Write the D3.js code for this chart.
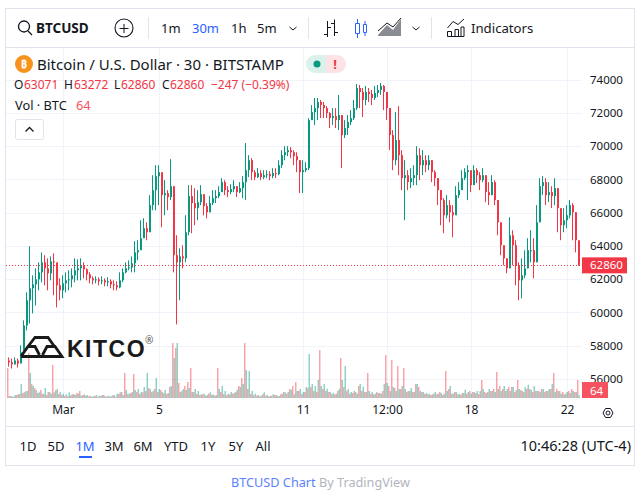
<!DOCTYPE html>
<html>
<head>
<meta charset="utf-8">
<script src="https://cdn.jsdelivr.net/npm/d3@7"></script>
<style>
  html, body { margin: 0; padding: 0; background: #fff; }
  svg { display: block; }
  text { font-family: "Noto Sans", sans-serif; fill: #131722; }
</style>
</head>
<body>
<svg id="chart" width="642" height="496"></svg>
<script>
// one candle every 3 hours, open = previous close
var closes = [
  57000,56880,57110,56930,57600,59220,60730,61450,61690,61990,
  62410,63010,62650,62350,63070,63010,61630,61330,61750,61930,
  61990,62230,62530,62650,62830,62590,62290,62050,61930,61990,
  61870,61930,61810,61870,61690,61630,61510,61930,62410,62650,
  62710,62950,63610,63740,64460,65060,64820,66450,67350,68190,
  68430,67050,67170,66930,67590,63440,63010,63370,63250,64820,
  66990,66570,66270,66630,67110,66390,66020,66570,66870,66990,
  67230,67830,67350,67230,67410,67590,67230,67470,67830,68550,
  69150,68430,68130,68370,68130,68250,68310,68190,68370,68310,
  68850,69450,69630,69750,69630,69390,69150,68430,68550,68670,
  71560,72040,72280,72650,72470,72280,71980,71680,71800,71560,
  71860,70660,71080,71440,71680,72280,73490,73250,72770,73250,
  73130,72890,73190,73370,73610,73250,72280,70660,69150,70360,
  69450,68070,68250,67830,68070,68250,69450,68850,69150,68850,
  69150,68430,68070,67350,66750,65840,66450,66020,65840,67050,
  67350,68070,68430,68550,67650,68550,68250,67950,68250,67230,
  67050,67830,66750,65420,64040,63250,62650,64640,64040,62830,
  61930,62230,62650,63740,63740,63010,65420,67590,67830,67050,
  67230,66990,67470,66270,65240,65540,65840,66450,66020,64340,
  62860
];
var highs = [
  57300,57230,57300,57230,58020,59520,61210,63980,62230,62650,
  63010,63610,63440,63250,63370,63550,62650,62050,62230,62410,
  62530,62650,63250,63190,63250,63010,62650,62410,62170,62170,
  62110,62170,62050,62110,61990,61930,61870,62410,62650,63010,
  63130,63370,64280,64340,65540,65660,65420,67050,68250,68850,
  68850,68250,67950,67350,69210,67350,64640,63860,64040,65840,
  67650,67650,67470,67350,67650,66990,66570,66990,67350,67350,
  67590,68070,67950,67590,67710,67950,67590,67830,68190,70180,
  69450,69270,68550,68670,68550,68550,68550,68490,68670,68670,
  69150,69750,69990,69990,69940,69750,69630,69150,69150,69030,
  71680,72460,72890,72890,72770,72650,72400,72040,72280,72280,
  73070,71860,71560,71860,72160,72770,73730,73670,73490,73610,
  73490,73370,73610,73670,73790,73670,73250,72280,70960,72040,
  72400,69750,69150,68550,68670,68850,69990,69870,69750,69450,
  69450,69150,68550,68070,67350,66870,67050,66750,66450,67590,
  67830,68550,68670,68850,68430,68850,68670,68430,68670,68070,
  67830,68250,67950,66750,65240,63860,63250,65720,64940,64340,
  63010,63250,63740,64460,64940,64460,66450,68070,68190,68070,
  67830,67590,68070,67350,66140,66270,66450,66750,66570,66020,
  64000
];
var lows = [
  56750,56630,56870,56690,57000,57600,58920,59340,59940,60420,
  61330,61810,61630,61330,61930,61030,60300,60730,60850,61210,
  61330,61510,61810,61930,61930,62050,61930,61750,61690,61750,
  61630,61690,61570,61570,61450,61330,61330,61450,61810,62350,
  62530,62410,62410,63130,63860,64580,64340,65540,66140,66140,
  66450,65120,65840,66140,66750,62410,59280,60730,62650,63010,
  64640,64760,65240,65540,66450,65840,65660,66020,66450,66570,
  66870,67350,67050,66930,67110,67230,66930,67170,66870,66750,
  68130,67950,67950,68070,67950,68010,68070,67950,68070,68070,
  68250,68670,69150,69390,69270,68850,68430,67170,67170,68430,
  68550,71560,71260,71560,71680,71680,71680,71080,71260,71080,
  70960,68670,70480,70660,71260,71560,72160,72280,71740,72460,
  72650,72460,72770,72950,73070,72160,71560,69760,68550,68850,
  68250,67350,65540,67350,67470,67650,67650,67950,68250,68430,
  68550,67830,67590,66450,65240,64760,65660,65420,64520,66140,
  66870,67470,67950,66750,67230,67950,67770,67350,67830,66630,
  66450,67050,66450,64640,63440,62830,62350,63010,62830,61630,
  60730,60850,62050,62650,63010,62050,63740,65420,67050,66450,
  66630,66270,66450,64820,64340,64820,65060,65660,64340,63610,
  62800
];
var downVolumes = [
  900,60,40,90,120,150,200,1350,420,300,
  150,240,120,90,180,990,240,120,90,60,
  50,80,120,150,210,90,70,50,40,60,
  40,60,90,40,50,80,40,120,180,750,
  120,150,720,180,120,170,210,300,180,270,
  180,240,150,120,330,1650,1500,450,210,360,
  480,900,180,120,90,110,70,130,90,70,
  900,180,120,80,110,130,180,360,600,1650,
  270,120,80,70,50,110,70,50,70,90,
  60,110,180,130,270,360,480,210,120,180,
  300,330,210,180,1440,270,210,180,120,110,
  210,1200,330,210,130,150,180,360,210,180,
  750,130,110,180,150,210,1290,360,1140,300,
  960,270,900,180,210,180,420,330,180,120,
  110,90,130,110,180,90,810,270,130,180,
  110,90,150,130,210,180,150,120,540,180,
  180,210,270,780,360,270,210,330,330,180,
  540,240,180,270,270,180,210,210,270,180,
  210,270,750,270,210,180,130,210,270,180,
  540
];
var upVolumes = [
  60,50,90,110,420,170,210,750,360,240,
  170,130,300,180,130,170,270,180,130,110,
  170,110,90,130,70,110,90,70,50,90,
  70,90,50,70,50,90,130,170,90,240,
  130,180,240,270,180,330,750,270,210,600,
  270,180,240,150,360,1200,1650,180,270,240,
  300,180,270,210,110,130,90,170,110,90,
  270,360,210,130,180,150,250,330,420,840,
  810,210,130,90,70,170,90,60,110,90,
  60,130,170,180,250,110,210,270,180,330,
  1320,420,360,540,360,420,270,180,150,130,
  270,540,960,270,180,210,130,420,340,180,
  210,180,130,150,130,420,450,210,330,210,
  270,360,270,210,300,180,420,210,180,150,
  130,110,180,130,150,130,210,360,130,180,
  130,150,250,180,130,180,210,210,270,150,
  270,210,180,270,210,360,270,210,330,240,
  270,210,330,400,240,360,210,180,270,210,
  270,420,180,210,130,110,180,150,210,180,
  80
];
var firstOpen = 57100;
var priceTicks = [56000,58000,60000,62000,64000,66000,68000,70000,72000,74000];
var timeTicks = [Date.UTC(2024,2,1), Date.UTC(2024,2,5), Date.UTC(2024,2,11), Date.UTC(2024,2,14,12), Date.UTC(2024,2,18), Date.UTC(2024,2,22)];
var timeLabels = ["Mar","5","11","12:00","18","22"];
var firstBar = Date.UTC(2024,1,27,17);
var barHours = 3;
var lastPrice = 62860;
var lastVolume = "64";
var rangeButtons = ["1D","5D","1M","3M","6M","YTD","1Y","5Y","All"];
var rangeCenters = [28,56,85,114,143,176,208,236,263];
var intervals = ["1m","30m","1h","5m"];
var intervalStarts = [161,192,231,257];
var legendParts = ["O","63071","H","63272","L","62860","C","62860","−247 (−0.39%)"];
var legendStarts = [14,24,64,74,114,121,162,170,211];

var upColor = "#089981", downColor = "#f23645", gridColor = "#f0f3fa", borderColor = "#e0e3eb", blue = "#2962ff";

var svg = d3.select("#chart");

// scales
var x = d3.scaleTime()
  .domain([Date.UTC(2024,2,1), Date.UTC(2024,2,22)])
  .range([63, 567]);
var y = d3.scaleLinear().domain([56000, 74000]).range([379, 79.5]);
var yVol = d3.scaleLinear().domain([0, 1650]).range([398, 343]);
function barX(i) { return x(firstBar + i * barHours * 3600000); }

// frame
svg.append("rect").attr("x",5.5).attr("y",8.5).attr("width",629).attr("height",457)
  .attr("fill","none").attr("stroke",borderColor);
svg.append("line").attr("x1",6).attr("x2",634).attr("y1",47.5).attr("y2",47.5).attr("stroke",borderColor);
svg.append("line").attr("x1",6).attr("x2",634).attr("y1",426.5).attr("y2",426.5).attr("stroke",borderColor);

// grid
svg.append("g").selectAll("line").data(priceTicks).enter().append("line")
  .attr("x1",6).attr("x2",582)
  .attr("y1",function(d){ return Math.round(y(d)) + 0.5; })
  .attr("y2",function(d){ return Math.round(y(d)) + 0.5; })
  .attr("stroke",gridColor);
svg.append("g").selectAll("line").data(timeTicks).enter().append("line")
  .attr("x1",function(d){ return Math.round(x(d)) + 0.5; })
  .attr("x2",function(d){ return Math.round(x(d)) + 0.5; })
  .attr("y1",48).attr("y2",398)
  .attr("stroke",gridColor);

// axes
var yAxis = d3.axisRight(y).tickValues(priceTicks).tickSize(0).tickPadding(0).tickFormat(d3.format("d"));
svg.append("g").attr("transform","translate(590,0)").call(yAxis)
  .call(function(g){ g.select(".domain").remove(); })
  .selectAll("text").style("font-family","'Noto Sans'").style("font-size","11.5px").attr("fill","#131722");

var xAxis = d3.axisBottom(x).tickValues(timeTicks).tickSize(0).tickPadding(0)
  .tickFormat(function(d,i){ return timeLabels[i]; });
svg.append("g").attr("transform","translate(0,405)").call(xAxis)
  .call(function(g){ g.select(".domain").remove(); })
  .selectAll("text").style("font-family","'Noto Sans'").style("font-size","12px").attr("fill","#131722");

// volume
svg.append("g").selectAll("rect").data(downVolumes).enter().append("rect")
  .attr("x",function(d,i){ return barX(i) - 1; })
  .attr("width",1.5)
  .attr("y",function(d){ return yVol(d); })
  .attr("height",function(d){ return 398 - yVol(d); })
  .attr("fill",downColor).attr("fill-opacity",0.45);
svg.append("g").selectAll("rect").data(upVolumes).enter().append("rect")
  .attr("x",function(d,i){ return barX(i) + 0.5; })
  .attr("width",1.5)
  .attr("y",function(d){ return yVol(d); })
  .attr("height",function(d){ return 398 - yVol(d); })
  .attr("fill",upColor).attr("fill-opacity",0.45);

// candles
var candle = svg.append("g").selectAll("g").data(closes).enter().append("g");
function isUp(d,i){ return d >= (i ? closes[i-1] : firstOpen); }
candle.append("line")
  .attr("x1",function(d,i){ return Math.round(barX(i)) + 0.5; })
  .attr("x2",function(d,i){ return Math.round(barX(i)) + 0.5; })
  .attr("y1",function(d,i){ return y(highs[i]); })
  .attr("y2",function(d,i){ return y(lows[i]); })
  .attr("stroke",function(d,i){ return isUp(d,i) ? upColor : downColor; });
candle.append("rect")
  .attr("x",function(d,i){ return Math.round(barX(i)); })
  .attr("width",2)
  .attr("y",function(d,i){ return Math.min(y(d), y(i ? closes[i-1] : firstOpen)); })
  .attr("height",function(d,i){ return Math.max(1, Math.abs(y(d) - y(i ? closes[i-1] : firstOpen))); })
  .attr("fill",function(d,i){ return isUp(d,i) ? upColor : downColor; });

// logo sits on top of the candles and volume
var logo = svg.append("g");
logo.append("path")
  .attr("d","M21 356.5 H62 L55 346.5 H47 L42.5 355 M21 356.5 L28 346.5 H35 L39.5 355 M28 346.5 L35 337.5 H48 L54.5 346.5")
  .attr("fill","none").attr("stroke","#1a1a1a").attr("stroke-width",2.8);
logo.append("text").attr("x",67).attr("y",357).style("font-family","'Liberation Sans'")
  .style("font-weight",700).style("font-size","23px").style("letter-spacing","1.5px").style("fill","#1a1a1a").text("KITCO");
logo.append("text").attr("x",145).attr("y",344).style("font-size","10px").style("fill","#555").text("®");

// last price
svg.append("line").attr("x1",6).attr("x2",582)
  .attr("y1",Math.round(y(lastPrice)) + 0.5).attr("y2",Math.round(y(lastPrice)) + 0.5)
  .attr("stroke",downColor).attr("stroke-dasharray","1 2");
svg.append("rect").attr("x",582).attr("y",y(lastPrice) - 7.5).attr("width",45).attr("height",16).attr("fill",downColor);
svg.append("text").attr("x",590).attr("y",y(lastPrice) + 4.5).style("font-size","11.5px").style("fill","#fff").text(lastPrice);
svg.append("rect").attr("x",582).attr("y",382).attr("width",26).attr("height",16).attr("fill","#f7525f");
svg.append("text").attr("x",590).attr("y",394.5).style("font-size","11.5px").style("fill","#fff").text(lastVolume);

// toolbar
svg.append("circle").attr("cx",24).attr("cy",26.5).attr("r",5.5).attr("fill","none").attr("stroke","#131722").attr("stroke-width",1.3);
svg.append("line").attr("x1",28).attr("y1",31).attr("x2",32).attr("y2",35).attr("stroke","#131722").attr("stroke-width",1.3);
svg.append("text").attr("x",36).attr("y",33).style("font-size","13.5px").style("font-weight",700).text("BTCUSD");
svg.append("circle").attr("cx",124).attr("cy",28).attr("r",9).attr("fill","none").attr("stroke","#131722").attr("stroke-width",1.1);
svg.append("path").attr("d","M119.5 28.5 H128.5 M124 24 V33").attr("stroke","#131722");
[148.5,308.5,431.5].forEach(function(sx){
  svg.append("line").attr("x1",sx).attr("x2",sx).attr("y1",17).attr("y2",39).attr("stroke",borderColor);
});
svg.append("g").selectAll("text").data(intervals).enter().append("text")
  .attr("x",function(d,i){ return intervalStarts[i]; }).attr("y",33)
  .style("font-size","13px")
  .style("fill",function(d,i){ return i == 1 ? blue : "#131722"; })
  .text(function(d){ return d; });
[293,416].forEach(function(cx){
  svg.append("path").attr("d","M"+(cx-3.5)+" 27 L"+cx+" 30 L"+(cx+3.5)+" 27").attr("fill","none").attr("stroke","#131722");
});
// bars icon
svg.append("path").attr("d","M327.5 21 V37 M324 34.5 H327.5 M327.5 27.5 H331 M334.5 19.5 V36 M331 23.5 H334.5 M334.5 32.5 H338").attr("fill","none").attr("stroke","#131722");
// candles icon
svg.append("path").attr("d","M355.5 23.5 H359.5 V33.5 H355.5 Z M357.5 19 V23.5 M357.5 33.5 V38 M363.5 24.5 H366.5 V32.5 H363.5 Z M365 21 V24.5 M365 32.5 V36").attr("fill","none").attr("stroke",blue);
// area icon
svg.append("path").attr("d","M378 35 L387 25 L393 30 L401 19 V36 H378 Z").attr("fill","#8a8c93");
svg.append("path").attr("d","M378 31 L387 23 L393 27 L401 18").attr("fill","none").attr("stroke","#131722");
// indicators icon
svg.append("path").attr("d","M447.5 28 L453 21.5 L458 24.5 L464 19 M447.5 36.5 H464 M447.5 36.5 V31.5 H451.5 V36.5 M455 36.5 V29.5 H458.5 V36.5 M461 36.5 V27 H464 V36.5").attr("fill","none").attr("stroke","#131722");
svg.append("text").attr("x",471).attr("y",33).style("font-size","13.2px").text("Indicators");

// legend
svg.append("circle").attr("cx",24).attr("cy",64).attr("r",9).attr("fill","#f7931a");
svg.append("text").attr("x",24).attr("y",68).attr("text-anchor","middle").style("font-size","11px").style("font-weight",700).style("fill","#fff").text("₿");
svg.append("text").attr("x",37).attr("y",69.5).style("font-size","15px").text("Bitcoin / U.S. Dollar · 30 · BITSTAMP");
svg.append("g").selectAll("text").data(legendParts).enter().append("text")
  .attr("x",function(d,i){ return legendStarts[i]; }).attr("y",89)
  .style("font-size","12px")
  .style("fill",function(d,i){ return (i < 8 && i % 2 == 0) ? "#131722" : downColor; })
  .text(function(d){ return d; });
svg.append("text").attr("x",15).attr("y",110).style("font-size","12.8px").text("Vol · BTC");
svg.append("text").attr("x",76).attr("y",110).style("font-size","12.8px").style("fill","#f7525f").text("64");
svg.append("rect").attr("x",15.5).attr("y",119.5).attr("width",28).attr("height",20).attr("rx",2).attr("fill","#fff").attr("stroke",borderColor);
svg.append("path").attr("d","M25.5 131.5 L29.5 127.5 L33.5 131.5").attr("fill","none").attr("stroke","#131722").attr("stroke-width",1.3);

// status pill
svg.append("path").attr("d","M326 55 H315 A9 9 0 0 0 315 73 H326 Z").attr("fill","#daf1ec");
svg.append("path").attr("d","M326 55 H337 A9 9 0 0 1 337 73 H326 Z").attr("fill","#fde3e5");
svg.append("circle").attr("cx",317).attr("cy",64).attr("r",3.5).attr("fill",upColor);
svg.append("text").attr("x",335).attr("y",69).attr("text-anchor","middle").style("font-size","13px").style("font-weight",700).style("fill",downColor).text("!");

// bottom bar
svg.append("g").selectAll("text").data(rangeButtons).enter().append("text")
  .attr("x",function(d,i){ return rangeCenters[i]; }).attr("y",451).attr("text-anchor","middle")
  .style("font-size","13px")
  .style("fill",function(d){ return d == "1M" ? blue : "#131722"; })
  .text(function(d){ return d; });
svg.append("rect").attr("x",79).attr("y",456).attr("width",13).attr("height",2).attr("fill",blue);
svg.append("text").attr("x",631).attr("y",451).attr("text-anchor","end").style("font-size","14.5px").text("10:46:28 (UTC-4)");
svg.append("path").attr("d","M603 413 L605.5 408.5 H610.5 L613 413 L610.5 417.5 H605.5 Z").attr("fill","none").attr("stroke","#131722");
svg.append("circle").attr("cx",608).attr("cy",413).attr("r",2).attr("fill","none").attr("stroke","#131722");

// footer
var foot = svg.append("text").attr("x",320.5).attr("y",487).attr("text-anchor","middle").style("font-size","12.7px");
foot.append("tspan").style("fill","#5b82ff").text("BTCUSD Chart");
foot.append("tspan").style("fill","#b2b5be").text(" By TradingView");
</script>
</body>
</html>
